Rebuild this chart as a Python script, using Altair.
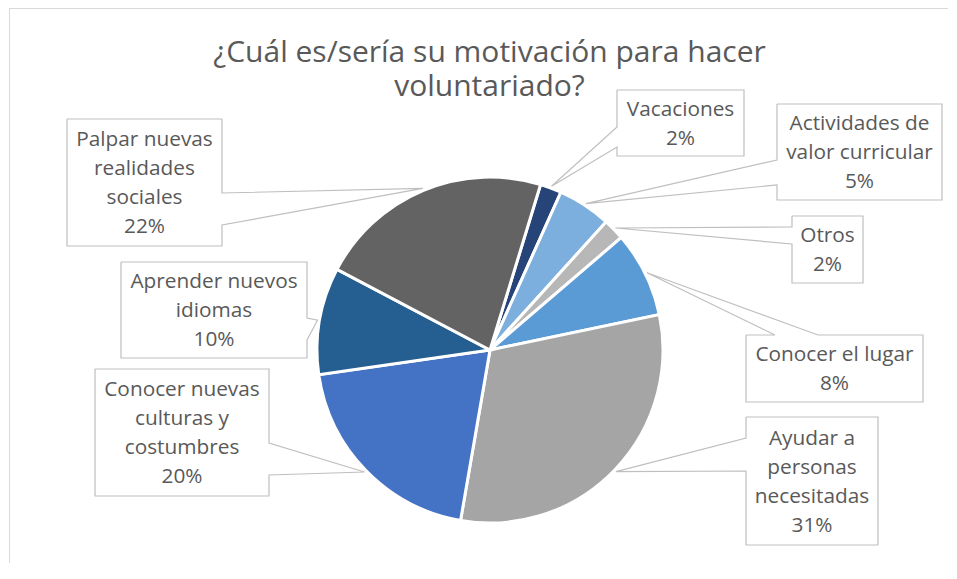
import altair as alt
import numpy as np
import pandas as pd

# ---------------- data ----------------
categories = [
    "Vacaciones",
    "Actividades de valor curricular",
    "Otros",
    "Conocer el lugar",
    "Ayudar a personas necesitadas",
    "Conocer nuevas culturas y costumbres",
    "Aprender nuevos idiomas",
    "Palpar nuevas realidades sociales",
]
values = [2, 5, 2, 8, 31, 20, 10, 22]
label_lines = [
    ["Vacaciones"],
    ["Actividades de", "valor curricular"],
    ["Otros"],
    ["Conocer el lugar"],
    ["Ayudar a", "personas", "necesitadas"],
    ["Conocer nuevas", "culturas y", "costumbres"],
    ["Aprender nuevos", "idiomas"],
    ["Palpar nuevas", "realidades", "sociales"],
]
colors = ["#264478", "#7CAFDD", "#B7B7B7", "#5B9BD5",
          "#A5A5A5", "#4472C4", "#255E91", "#636363"]
title_lines = ["¿Cuál es/sería su motivación para hacer", "voluntariado?"]

# ---------------- layout (page pixels) ----------------
W, H = 940, 555
OFF = 8
CX, CY, R = 490, 350, 173
START_DEG = 17
APEX_R = R + 2
LINE_H = 29
# box: left, top, right, bottom, side of wedge, base start, base end
boxes = [
    (617, 90, 744, 156, "left", 127, 147),
    (777, 104, 942, 200, "left", 160, 185),
    (792, 216, 863, 283, "left", 227, 244),
    (746, 335, 923, 402, "top", 775, 818),
    (746, 417, 878, 545, "left", 438, 471),
    (95, 369, 269, 496, "right", 443, 475),
    (121, 262, 307, 358, "right", 318, 340),
    (67, 119, 222, 246, "right", 193, 225),
]

total = sum(values)
a0 = np.deg2rad(START_DEG)
cum = np.cumsum(values)
mids = a0 + 2 * np.pi * (cum - np.array(values) / 2) / total

pie_df = pd.DataFrame({"cat": categories, "value": values, "idx": range(len(values))})

rows = []
lab_rows = []
for i, (l, t, r, b, side, b1, b2) in enumerate(boxes):
    ax = CX + APEX_R * np.sin(mids[i])
    ay = CY - APEX_R * np.cos(mids[i])
    if side == "right":
        pts = [(l, t), (r, t), (r, b1), (ax, ay), (r, b2), (r, b), (l, b), (l, t)]
    elif side == "left":
        pts = [(l, t), (r, t), (r, b), (l, b), (l, b2), (ax, ay), (l, b1), (l, t)]
    else:  # top
        pts = [(l, t), (b1, t), (ax, ay), (b2, t), (r, t), (r, b), (l, b), (l, t)]
    for k, (px, py) in enumerate(pts):
        rows.append({"id": i, "k": k, "x": float(px), "y": float(py)})
    lines = label_lines[i] + [f"{values[i]}%"]
    n = len(lines)
    cyb = (t + b) / 2 + 1
    for k, s in enumerate(lines):
        lab_rows.append({"x": (l + r) / 2, "y": cyb + (k - (n - 1) / 2) * LINE_H, "txt": s})
call_df = pd.DataFrame(rows)
lab_df = pd.DataFrame(lab_rows)

title_df = pd.DataFrame({"x": [489.5, 489.5], "y": [62, 96], "txt": title_lines})

xs = alt.Scale(domain=[OFF, OFF + W], range=[0, W], nice=False, zero=False)
ys = alt.Scale(domain=[OFF, OFF + H], range=[0, H], nice=False, zero=False)
X = alt.X("x:Q", scale=xs, axis=None)
Y = alt.Y("y:Q", scale=ys, axis=None)

FONT = "Open Sans"
TXT = "#595959"

pie = alt.Chart(pie_df).mark_arc(radius=R, stroke="white", strokeWidth=3).encode(
    theta=alt.Theta("value:Q", stack=True,
                    scale=alt.Scale(range=[float(a0), float(a0 + 2 * np.pi)])),
    color=alt.Color("cat:N", scale=alt.Scale(domain=categories, range=colors), legend=None),
    order=alt.Order("idx:Q"),
    x=alt.value(CX - OFF),
    y=alt.value(CY - OFF),
)

callouts = alt.Chart(call_df).mark_line(color="#BFBFBF", strokeWidth=1.2).encode(
    x=X, y=Y, detail="id:N", order="k:Q"
)

labels = alt.Chart(lab_df).mark_text(
    font=FONT, fontSize=20.8, color=TXT, align="center", baseline="middle"
).encode(x=X, y=Y, text="txt:N")

title = alt.Chart(title_df).mark_text(
    font=FONT, fontSize=30, color=TXT, align="center", baseline="alphabetic"
).encode(x=X, y=Y, text="txt:N")

frame_top = alt.Chart(pd.DataFrame({"a": [0]})).mark_rule(color="#D9D9D9", strokeWidth=1).encode(
    x=alt.value(1), x2=alt.value(W), y=alt.value(0.5)
)
frame_left = alt.Chart(pd.DataFrame({"a": [0]})).mark_rule(color="#D9D9D9", strokeWidth=1).encode(
    x=alt.value(1.5), y=alt.value(0), y2=alt.value(H)
)

chart = alt.layer(frame_top, frame_left, pie, callouts, labels, title).properties(
    width=W, height=H, padding=0, autosize=alt.AutoSizeParams(type="none"),
    background="white",
).configure_view(strokeWidth=0)

chart.save("out.html", embed_options={"renderer": "svg", "actions": False})
